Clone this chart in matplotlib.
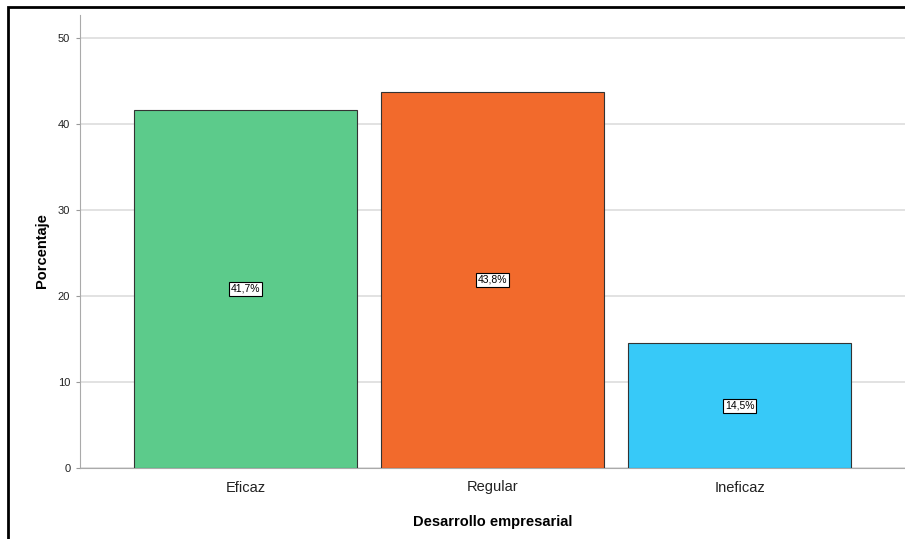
import matplotlib.pyplot as plt
from matplotlib.patches import Rectangle

plt.rcParams["font.family"] = ["Liberation Sans", "DejaVu Sans"]

# porcentaje por categoria de desarrollo empresarial
categorias = ["Eficaz", "Regular", "Ineficaz"]
porcentajes = [41.7, 43.8, 14.5]
colores = ["#5ccb8b", "#f26a2c", "#37c9f8"]
yticks = [0, 10, 20, 30, 40, 50]

fig = plt.figure(figsize=(9.05, 5.39), dpi=100)
ax = fig.add_axes([80 / 905, 1 - 468 / 539, 1 - 80 / 905, (468 - 15) / 539])

x = range(len(categorias))
bars = ax.bar(x, porcentajes, width=0.9, color=colores,
              edgecolor="#333333", linewidth=0.8, zorder=3)

# etiquetas de valor en el centro de cada barra
for b, v in zip(bars, porcentajes):
    ax.text(b.get_x() + b.get_width() / 2, v / 2,
            f"{v:.1f}%".replace(".", ","),
            ha="center", va="center", fontsize=7.5, zorder=4,
            bbox=dict(boxstyle="square,pad=0.2", fc="white", ec="black", lw=0.8))

ax.set_xlim(-0.67, 2.67)
ax.set_ylim(0, 52.7)
ax.set_xticks(list(x))
ax.set_xticklabels(categorias, fontsize=10.5, color="#222222")
ax.set_yticks(yticks)
ax.set_yticklabels([str(t) for t in yticks], fontsize=8, color="#222222")
ax.tick_params(axis="x", length=0, pad=9)
ax.tick_params(axis="y", length=3, color="#999999", pad=4)

ax.grid(axis="y", color="#dddddd", linewidth=1.2, zorder=0)
for s in ["top", "right"]:
    ax.spines[s].set_visible(False)
ax.spines["left"].set_color("#aaaaaa")
ax.spines["bottom"].set_color("#aaaaaa")

ax.set_xlabel("Desarrollo empresarial", fontsize=10.5, fontweight="bold", labelpad=15)
ax.set_ylabel("Porcentaje", fontsize=10.5, fontweight="bold")
ax.yaxis.set_label_coords(-0.038, 0.48)

# marco exterior
fig.patches.append(Rectangle((8 / 905, -0.1), 1.2, 1.1 - 7 / 539,
                             transform=fig.transFigure, fill=False,
                             ec="black", lw=2, zorder=10))

fig.savefig("out.png", dpi=100)
